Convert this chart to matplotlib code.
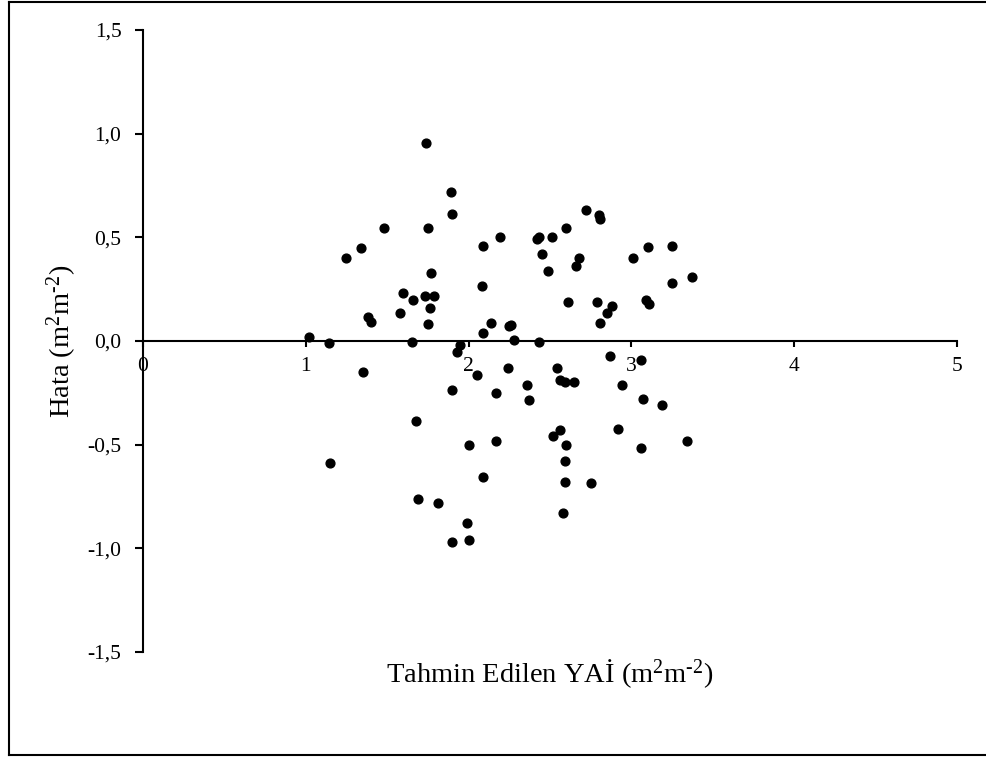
import matplotlib
matplotlib.use("Agg")
import matplotlib.pyplot as plt
from matplotlib.lines import Line2D
from matplotlib.ticker import FuncFormatter

plt.rcParams['font.family'] = ['Liberation Serif', 'DejaVu Serif']
plt.rcParams['mathtext.fontset'] = 'custom'
plt.rcParams['mathtext.rm'] = 'Liberation Serif'
plt.rcParams['mathtext.it'] = 'Liberation Serif:italic'

# predicted LAI and residuals
tahmin = [1.02, 1.14, 1.25, 1.34, 1.48, 1.38, 1.40, 1.35, 1.15, 1.58,
          1.60, 1.66, 1.65, 1.74, 1.73, 1.75, 1.77, 1.76, 1.75, 1.79,
          1.89, 1.90, 1.95, 1.93, 1.68, 1.69, 1.81, 1.90, 1.90, 2.00,
          1.99, 2.00, 2.05, 2.17, 2.17, 2.09, 2.24, 2.09, 2.14, 2.25,
          2.08, 2.09, 2.19, 2.42, 2.43, 2.51, 2.45, 2.49, 2.60, 2.72,
          2.80, 2.81, 2.68, 2.66, 2.61, 2.79, 2.88, 2.85, 2.81, 3.01,
          3.10, 3.25, 3.37, 3.25, 3.09, 3.11, 2.26, 2.28, 2.43, 2.36,
          2.37, 2.54, 2.56, 2.59, 2.65, 2.87, 3.06, 2.94, 3.07, 3.19,
          2.56, 2.52, 2.60, 2.59, 2.59, 2.75, 2.58, 2.92, 3.06, 3.34]
hata = [0.02, -0.01, 0.40, 0.45, 0.545, 0.115, 0.09, -0.15, -0.59, 0.135,
        0.23, 0.20, -0.005, 0.955, 0.215, 0.545, 0.33, 0.16, 0.08, 0.215,
        0.72, 0.615, -0.02, -0.055, -0.385, -0.76, -0.78, -0.235, -0.97, -0.96,
        -0.88, -0.50, -0.165, -0.25, -0.48, -0.655, -0.13, 0.04, 0.087, 0.072,
        0.265, 0.458, 0.50, 0.49, 0.50, 0.50, 0.42, 0.34, 0.545, 0.63,
        0.61, 0.59, 0.40, 0.36, 0.19, 0.19, 0.17, 0.135, 0.085, 0.40,
        0.455, 0.46, 0.31, 0.28, 0.20, 0.18, 0.077, 0.005, -0.004, -0.21,
        -0.285, -0.13, -0.19, -0.20, -0.20, -0.07, -0.093, -0.21, -0.28, -0.31,
        -0.43, -0.46, -0.50, -0.58, -0.68, -0.685, -0.83, -0.425, -0.515, -0.48]

x_ticks = [0, 1, 2, 3, 4, 5]
y_ticks = [-1.5, -1.0, -0.5, 0.0, 0.5, 1.0, 1.5]

fig = plt.figure(figsize=(9.86, 7.58), dpi=100)
ax = fig.add_axes([0.145, 0.1398, 0.8256, 0.8206])

ax.scatter(tahmin, hata, s=40, color='black', zorder=3)

ax.set_xlim(0, 5)
ax.set_ylim(-1.5, 1.5)
ax.set_xticks(x_ticks)
ax.set_yticks(y_ticks)
ax.xaxis.set_major_formatter(FuncFormatter(lambda v, p: f"{v:.0f}"))
ax.yaxis.set_major_formatter(FuncFormatter(lambda v, p: f"{v:.1f}".replace('.', ',')))

ax.spines['top'].set_visible(False)
ax.spines['right'].set_visible(False)
ax.spines['bottom'].set_position(('data', 0))
for sp in ('left', 'bottom'):
    ax.spines[sp].set_linewidth(1.5)
ax.tick_params(axis='both', direction='out', width=1.5,
               labelsize=15.5, colors='black')
ax.tick_params(axis='y', length=5.5, pad=10)
ax.tick_params(axis='x', length=4.5, pad=7)

ax.text(-0.0995, 0.5, r'Hata (m$^{2}$m$^{\text{-}2}$)', transform=ax.transAxes,
        rotation=90, ha='center', va='center', fontsize=20.5)
ax.text(0.5, -0.034, r'Tahmin Edilen YAİ (m$^{2}$m$^{\text{-}2}$)',
        transform=ax.transAxes, ha='center', va='center', fontsize=20.5)

# outer frame (left, top, bottom)
W, H = 986, 758
fig.add_artist(Line2D([9 / W, 9 / W], [1 - 2 / H, 1 - 755 / H], color='black', lw=1.5))
fig.add_artist(Line2D([9 / W, 1.0], [1 - 2 / H, 1 - 2 / H], color='black', lw=1.5))
fig.add_artist(Line2D([9 / W, 1.0], [1 - 755 / H, 1 - 755 / H], color='black', lw=1.5))

fig.savefig('out.png', dpi=100)
